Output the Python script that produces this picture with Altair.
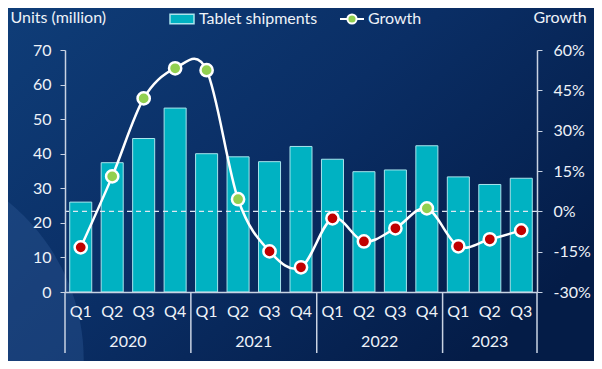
import altair as alt
import pandas as pd

years = ["2020"] * 4 + ["2021"] * 4 + ["2022"] * 4 + ["2023"] * 3
quarters = ["Q1", "Q2", "Q3", "Q4"] * 3 + ["Q1", "Q2", "Q3"]
shipments = [26.0, 37.4, 44.4, 53.2, 40.0, 39.1, 37.7, 42.1, 38.4, 34.8, 35.3, 42.3, 33.3, 31.1, 32.9]
growth = [-13.4, 13.0, 42.0, 53.2, 52.5, 4.5, -14.9, -20.8, -2.6, -11.2, -6.3, 1.1, -13.0, -10.4, -7.1]
left_ticks = [0, 10, 20, 30, 40, 50, 60, 70]
right_ticks = [-30, -15, 0, 15, 30, 45, 60]

periods = [f"{y} {q}" for y, q in zip(years, quarters)]
df = pd.DataFrame({
    "period": periods, "year": years, "quarter": quarters,
    "shipments": shipments, "growth": growth,
    "bar_series": "Tablet shipments", "line_series": "Growth",
})

W, H = 472, 242
STEP = W / len(periods)
TEAL = "#00b2c2"
GREEN = "#92d050"
RED = "#c00000"
AXC = "#c9d3e3"
TXT = "#eef2f8"
FONT = "Lato"
FS = 16

xaxis = alt.Axis(title=None, labelExpr="split(datum.value, ' ')[1]", labelAngle=0,
                 ticks=False, tickSize=0, labelPadding=11, labelColor=TXT,
                 labelFontSize=FS, labelFont=FONT, domainColor=AXC, domainWidth=1.5,
                 zindex=1)
xscale = alt.Scale(domain=periods, paddingInner=0.3, paddingOuter=0.15)
X = alt.X("period:N", sort=periods, scale=xscale, axis=xaxis)

one = pd.DataFrame({"k": [0]})

bg = alt.Chart(one).mark_rect(
    fill=alt.Gradient(gradient="linear", x1=0, y1=0, x2=1, y2=0.7,
                      stops=[alt.GradientStop(color="#0f3d78", offset=0),
                             alt.GradientStop(color="#0a2e65", offset=0.5),
                             alt.GradientStop(color="#041c47", offset=1)])
).encode(x=alt.value(-57), x2=alt.value(W + 57), y=alt.value(-42), y2=alt.value(H + 69))

deco = alt.Chart(one).mark_circle(size=166000, color="#2a5590", opacity=0.45).encode(
    x=alt.value(-185), y=alt.value(310))

BAR_SYM = "M-1,-0.4H1V0.4H-1Z"
LINE_SYM = ("M-1,0H-0.38M0.38,0H1M-0.38,0A0.38,0.38 0 1,1 0.38,0"
            "A0.38,0.38 0 1,1 -0.38,0Z")

bars = alt.Chart(df).mark_bar(stroke="#a8e4ec", strokeWidth=1).encode(
    x=X,
    y=alt.Y("shipments:Q", scale=alt.Scale(domain=[0, 70]),
            axis=alt.Axis(orient="left", values=left_ticks, title="Units (million)",
                          titleAngle=0, titleX=-55, titleY=-33, titleAlign="left",
                          titleBaseline="middle", titleFontWeight="normal",
                          titleFontSize=FS, titleFont=FONT, titleColor=TXT,
                          grid=False, tickSize=5, labelPadding=9, tickColor=AXC,
                          domainColor=AXC, domainWidth=1.5, labelColor=TXT,
                          labelFontSize=FS, labelFont=FONT, zindex=1)),
    fill=alt.Fill("bar_series:N", scale=alt.Scale(range=[TEAL]),
                  legend=alt.Legend(orient="none", legendX=104, legendY=-44,
                                    title=None, symbolType=BAR_SYM,
                                    symbolSize=576, symbolStrokeWidth=1.5,
                                    symbolStrokeColor="#a8e4ec",
                                    labelColor=TXT, labelFontSize=FS, labelFont=FONT,
                                    labelOffset=4)),
)

left = alt.layer(bg, deco, bars)

rscale = alt.Scale(domain=[-30, 60])
raxis = alt.Axis(orient="right", values=right_ticks, labelExpr="datum.value + '%'",
                 title="Growth", titleAngle=0, titleX=-4, titleY=-33, titleAlign="left",
                 titleBaseline="middle", titleFontWeight="normal", titleFontSize=FS,
                 titleFont=FONT, titleColor=TXT, grid=False, tickSize=5, labelPadding=11,
                 tickColor=AXC, domainColor=AXC, domainWidth=1.5, labelColor=TXT,
                 labelFontSize=FS, labelFont=FONT, zindex=1)

zero = alt.Chart(pd.DataFrame({"growth": [0]})).mark_rule(
    strokeDash=[5, 4], color="#e0e8f2", strokeWidth=1.2).encode(
    y=alt.Y("growth:Q", scale=rscale, axis=raxis))

line = alt.Chart(df).mark_line(interpolate="cardinal", strokeWidth=2.5).encode(
    x=X, y=alt.Y("growth:Q", scale=rscale, axis=raxis),
    stroke=alt.Stroke("line_series:N", scale=alt.Scale(range=["#ffffff"]),
                      legend=alt.Legend(orient="none", legendX=274, legendY=-44,
                                        title=None, symbolType=LINE_SYM,
                                        symbolSize=576, symbolStrokeWidth=2,
                                        symbolFillColor=GREEN,
                                        labelColor=TXT, labelFontSize=FS, labelFont=FONT,
                                        labelOffset=3)))

pts = alt.Chart(df).mark_point(shape="circle", filled=True, size=150, stroke="white",
                               strokeWidth=2.5, opacity=1).encode(
    x=X, y=alt.Y("growth:Q", scale=rscale, axis=raxis),
    fill=alt.condition("datum.growth >= 0", alt.value(GREEN), alt.value(RED)))

right = alt.layer(zero, line, pts)

first_q = pd.DataFrame({"period": ["2020 Q1", "2021 Q1", "2022 Q1", "2023 Q1"]})
last_q = pd.DataFrame({"period": ["2023 Q3"]})
sep_l = alt.Chart(first_q).mark_rule(xOffset=-STEP / 2, color=AXC, strokeWidth=1.5).encode(
    x=X, y=alt.value(H), y2=alt.value(H + 61))
sep_r = alt.Chart(last_q).mark_rule(xOffset=STEP / 2, color=AXC, strokeWidth=1.5).encode(
    x=X, y=alt.value(H), y2=alt.value(H + 61))

yl_full = pd.DataFrame({"period": ["2020 Q2", "2021 Q2", "2022 Q2"], "label": ["2020", "2021", "2022"]})
yl_part = pd.DataFrame({"period": ["2023 Q2"], "label": ["2023"]})
ytxt_a = alt.Chart(yl_full).mark_text(dx=STEP / 2, color=TXT, fontSize=FS, font=FONT,
                                      baseline="middle").encode(
    x=X, y=alt.value(H + 50), text="label:N")
ytxt_b = alt.Chart(yl_part).mark_text(color=TXT, fontSize=FS, font=FONT,
                                      baseline="middle").encode(
    x=X, y=alt.value(H + 50), text="label:N")

chart = alt.layer(left, right, sep_l, sep_r, ytxt_a, ytxt_b).resolve_scale(
    y="independent"
).properties(
    width=W, height=H,
    padding={"left": 57, "top": 42, "right": 57, "bottom": 69},
    autosize=alt.AutoSizeParams(type="none"),
).configure(background="#0a2d64").configure_view(stroke=None)

chart.save("out.html", embed_options={"renderer": "svg", "actions": False})
